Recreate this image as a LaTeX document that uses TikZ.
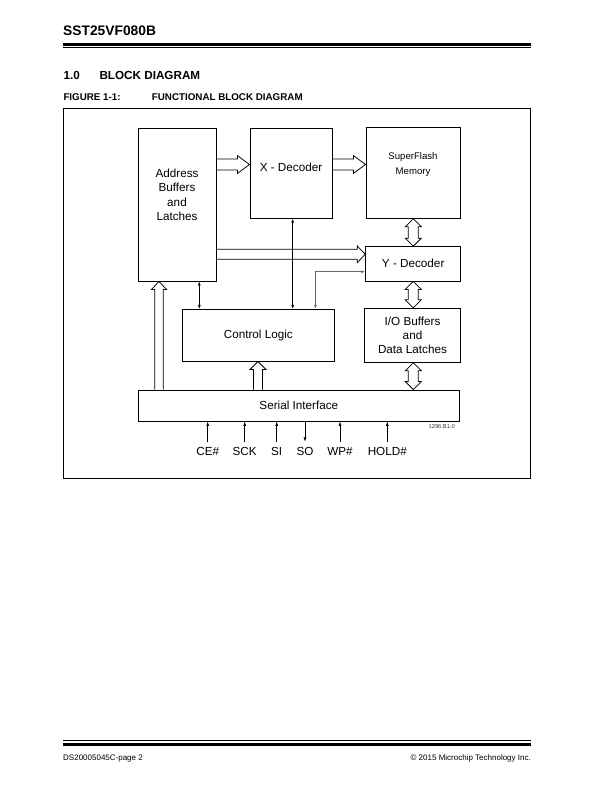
\documentclass[tikz,border=0pt]{standalone}
\usepackage{fontspec}
\setmainfont{Liberation Sans}
\usepackage{tikz}
\usetikzlibrary{arrows.meta,positioning,calc}
\definecolor{wiregray}{HTML}{6A6A6A}
\definecolor{tagtext}{HTML}{333333}
\newcommand{\blockfont}{\fontsize{11.7}{14.4}\selectfont}
% hollow arrows: tail, tip, shaft half width, head half width, head length
\newcommand{\fatright}[5]{\draw[fat] ($(#1)+(0,-#3)$) -- ($(#2)+(-#5,-#3)$) -- ($(#2)+(-#5,-#4)$) -- (#2) -- ($(#2)+(-#5,#4)$) -- ($(#2)+(-#5,#3)$) -- ($(#1)+(0,#3)$);}
\newcommand{\fatup}[5]{\draw[fat] ($(#1)+(-#3,0)$) -- ($(#2)+(-#3,#5)$) -- ($(#2)+(-#4,#5)$) -- (#2) -- ($(#2)+(#4,#5)$) -- ($(#2)+(#3,#5)$) -- ($(#1)+(#3,0)$);}
\newcommand{\fatboth}[5]{\draw[fat] ($(#1)+(-#3,#5)$) -- ($(#1)+(-#4,#5)$) -- (#1) -- ($(#1)+(#4,#5)$) -- ($(#1)+(#3,#5)$) -- ($(#2)+(#3,-#5)$) -- ($(#2)+(#4,-#5)$) -- (#2) -- ($(#2)+(-#4,-#5)$) -- ($(#2)+(-#3,-#5)$) -- cycle;}

\begin{document}
\begin{tikzpicture}[x=1pt,y=-1pt,
  block/.style={draw,line width=0.9pt,inner sep=0pt,align=center,font=\blockfont},
  txt/.style={align=center,font=\blockfont,inner sep=0pt},
  fat/.style={line width=0.75pt,line join=miter},
  biarr/.style={{Latex[length=4pt,width=3pt]}-{Latex[length=4pt,width=3pt]},line width=0.6pt},
  sigarr/.style={-{Latex[length=4.5pt,width=3pt]},line width=0.6pt},
  sig/.style={anchor=base,text height=8.5pt,text depth=2pt,inner ysep=4.5pt,inner xsep=0pt,font=\blockfont}]
\useasboundingbox (0,0) rectangle (612,792);

\node[anchor=base west,inner sep=0pt,font=\bfseries\fontsize{13.8}{16}\selectfont] (title) at (63,35.7) {SST25VF080B};
\draw[line width=3pt] (63,44.2) -- (531,44.2);
\draw[line width=0.8pt] (63,47.8) -- (531,47.8);
\node[anchor=base west,inner sep=0pt,font=\bfseries\fontsize{11.7}{13}\selectfont] (secnum) at (63.3,79) {1.0};
\node[anchor=base west,inner sep=0pt,font=\bfseries\fontsize{11.7}{13}\selectfont] (sectitle) at (99.3,79) {BLOCK DIAGRAM};
\node[anchor=base west,inner sep=0pt,font=\bfseries\fontsize{9.8}{11}\selectfont] (fignum) at (63.3,100.3) {FIGURE 1-1:};
\node[anchor=base west,inner sep=0pt,font=\bfseries\fontsize{9.8}{11}\selectfont] (figtitle) at (151.7,100.3) {FUNCTIONAL BLOCK DIAGRAM};
\draw[line width=0.8pt] (63,108.5) rectangle (530.5,478.3);

\node[block,minimum width=78pt,minimum height=153pt] (addr) at (177,204.5) {};
\node[txt] (addrtxt) at (177,195) {Address\\Buffers\\and\\Latches};
\node[block,minimum width=82pt,minimum height=90pt] (xdec) at (291,173.2) {};
\node[txt] (xdectxt) at (291,167.7) {X - Decoder};
\node[block,minimum width=94pt,minimum height=91pt] (mem) at (413,172.8) {};
\node[txt,font=\fontsize{9.6}{15}\selectfont] (memtxt) at (413,165) {SuperFlash\\Memory};
\node[block,minimum width=95pt,minimum height=34.3pt] (ydec) at (413.2,263.8) {Y - Decoder};
\node[block,minimum width=152pt,minimum height=51.7pt] (ctrl) at (258.3,335.2) {Control Logic};
\node[block,minimum width=96.3pt,minimum height=54pt] (iobuf) at (412.5,335.3) {I/O Buffers\\and\\Data Latches};
\node[block,minimum width=321pt,minimum height=31pt] (serial) at (298.8,405.5) {Serial Interface};
\node[anchor=center,inner sep=0pt,text=tagtext,font=\fontsize{5.7}{6}\selectfont] (tag) at (441.7,426.7) {1296 B1.0};

\coordinate (fx) at (0,164.5);
\coordinate (fy) at (0,254.3);
\coordinate (fa) at (159,0);
\coordinate (fc) at (258,0);
\coordinate (fm) at (413.3,0);
\fatright{fx -| addr.east}{fx -| xdec.west}{5.5}{8.8}{12}
\fatright{fx -| xdec.east}{fx -| mem.west}{5.5}{8.8}{12}
\fatright{fy -| addr.east}{fy -| ydec.west}{5}{8.3}{8}
\fatup{fa |- serial.north}{fa |- addr.south}{4.2}{7.5}{8}
\fatup{fc |- serial.north}{fc |- ctrl.south}{4.5}{8}{8}
\fatboth{fm |- mem.south}{fm |- ydec.north}{5}{8}{8}
\fatboth{fm |- ydec.south}{fm |- iobuf.north}{5}{8}{8}
\fatboth{fm |- iobuf.south}{fm |- serial.north}{5}{8}{8}

\coordinate (ac) at (199.3,0);
\coordinate (xc) at (292.7,0);
\coordinate (yc) at (315.5,271.7);
\draw[biarr] (ac |- addr.south) -- (ac |- ctrl.north);
\draw[biarr] (xc |- xdec.south) -- (xc |- ctrl.north);
\draw[biarr,wiregray,line width=0.9pt] (yc |- ctrl.north) -- (yc) -- (yc -| ydec.west);

\node[sig] (ce) at (207.7,455) {CE\#};
\node[sig] (sck) at (244.7,455) {SCK};
\node[sig] (si) at (276.7,455) {SI};
\node[sig] (so) at (305,455) {SO};
\node[sig] (wp) at (340,455) {WP\#};
\node[sig] (hold) at (387.3,455) {HOLD\#};
\draw[sigarr] (ce.north) -- (ce.north |- serial.south);
\draw[sigarr] (sck.north) -- (sck.north |- serial.south);
\draw[sigarr] (si.north) -- (si.north |- serial.south);
\draw[sigarr] (so.north |- serial.south) -- (so.north);
\draw[sigarr] (wp.north) -- (wp.north |- serial.south);
\draw[sigarr] (hold.north) -- (hold.north |- serial.south);

\draw[line width=0.8pt] (63,740) -- (531,740);
\draw[line width=2.7pt] (63,744.7) -- (531,744.7);
\node[anchor=base west,inner sep=0pt,font=\fontsize{8}{9}\selectfont] (pageno) at (63,760) {DS20005045C-page 2};
\node[anchor=base east,inner sep=0pt,font=\fontsize{8}{9}\selectfont] (copy) at (531,760) {\textcopyright{} 2015 Microchip Technology Inc.};
\end{tikzpicture}
\end{document}
